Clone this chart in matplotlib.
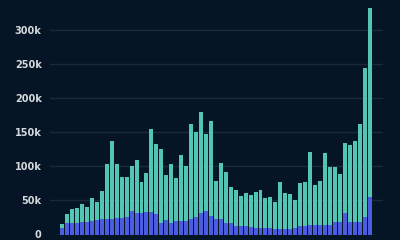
import matplotlib
matplotlib.use('Agg')
import matplotlib.pyplot as plt
import matplotlib.ticker as mticker
import numpy as np

# stacked values per period (in units)
totals = [16, 30.5, 37, 39, 44.7, 40.8, 53, 47, 63.8, 103,
          136.6, 103, 85, 84, 100, 109, 77.5, 90, 154, 132,
          125, 87, 103, 83, 116, 101, 162, 150, 179, 147,
          166, 79, 105, 91, 69, 65, 56, 61, 58, 62,
          65, 53.5, 54.5, 48, 76.5, 61, 59, 50.6, 75, 77.4,
          121, 72, 78, 120, 99, 99, 88, 134.6, 131, 137.5,
          162, 244.6, 331.6]
bottom_part = [9, 17.3, 17, 17.5, 18.5, 18.5, 20, 21, 22, 22.5,
               22.5, 24.5, 24.5, 25, 34.4, 32, 32, 33.6, 33.6, 30,
               17, 21.7, 17.5, 20.5, 20, 20, 22.5, 26, 31, 34,
               27, 22, 22, 17, 17, 12.5, 12.5, 12, 11.5, 9,
               9, 9, 9, 8.5, 7.6, 7.6, 7.6, 10, 12, 12,
               14, 14, 14, 14, 14, 19, 19, 31, 19, 19,
               19, 25, 55]
y_ticks = [0, 50, 100, 150, 200, 250, 300]

totals = np.array(totals) * 1000
bottom_part = np.array(bottom_part) * 1000
top_part = totals - bottom_part

bg = '#061525'
fig = plt.figure(figsize=(4, 2.4), dpi=100, facecolor=bg)
ax = fig.add_axes([50 / 400, 5.5 / 240, 333 / 400, 231.9 / 240], facecolor=bg)

x = np.arange(len(totals))
ax.bar(x, bottom_part, width=0.8, color='#4c5ce0', zorder=3)
ax.bar(x, top_part, bottom=bottom_part, width=0.8, color='#52c6b2', zorder=3)

ax.set_xlim(-2.45, len(totals) - 1 + 2.7)
ax.set_ylim(0, 340000)
ax.set_yticks([v * 1000 for v in y_ticks])
ax.yaxis.set_major_formatter(mticker.FuncFormatter(lambda v, p: '0' if v == 0 else f'{int(v / 1000)}k'))
ax.set_xticks([])
ax.grid(axis='y', color='#1a2a3b', linewidth=1, zorder=0)
ax.tick_params(axis='y', length=0, pad=6, labelsize=7, labelcolor='#d4d9de')
for lbl in ax.get_yticklabels():
    lbl.set_fontweight('bold')
for s in ax.spines.values():
    s.set_visible(False)

fig.savefig('out.png', dpi=100, facecolor=bg)
